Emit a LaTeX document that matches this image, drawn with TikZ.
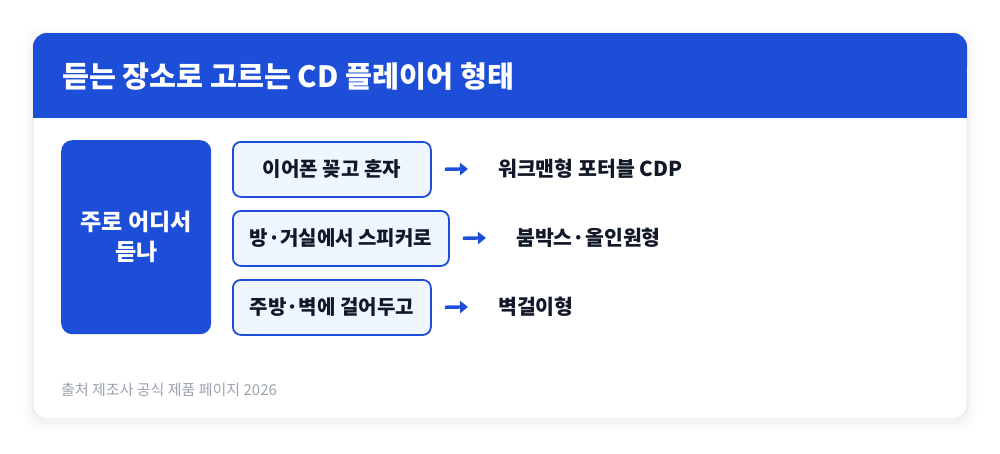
\documentclass[tikz,border=0pt]{standalone}
\usepackage{fontspec}
\setmainfont{Noto Sans CJK KR}
\usetikzlibrary{arrows.meta}
\definecolor{brand}{HTML}{1D4ED8}
\definecolor{paleblue}{HTML}{EFF6FF}
\definecolor{ink}{HTML}{111827}
\definecolor{muted}{HTML}{9CA3AF}
\definecolor{cardline}{HTML}{E5E7EB}
\tikzset{
  x=1pt, y=-1pt,
  place/.style={draw=brand, line width=1.8pt, fill=paleblue, rounded corners=8pt,
    minimum height=55pt, inner sep=0pt, anchor=north west,
    font=\fontsize{20}{24}\selectfont\bfseries, text=ink},
  result/.style={anchor=west, inner sep=0pt, font=\fontsize{20.5}{24}\selectfont\bfseries, text=ink},
  link/.style={draw=brand, line width=3.4pt, -{Triangle[length=8pt,width=12pt]},
    shorten <=13pt, shorten >=30pt}
}
\begin{document}
\begin{tikzpicture}
\useasboundingbox (0,0) rectangle (1000,453);
\fill[white] (0,0) rectangle (1000,453);
% shadow
\foreach \i/\o in {10/0.006,7/0.009,4/0.012,2/0.015}{
  \fill[black, opacity=\o, rounded corners=14pt] (33-\i,36-\i) rectangle (967+\i,422+\i);
}
% card
\filldraw[fill=white, draw=cardline, line width=0.8pt, rounded corners=14pt] (33,33) rectangle (967,419);
% header
\fill[brand, rounded corners=14pt] (33,33) rectangle (967,80);
\fill[brand] (33,60) rectangle (967,118);
\node[anchor=west, inner sep=0pt, text=white, font=\fontsize{29.3}{33}\selectfont\bfseries] (title) at (62,76) {듣는 장소로 고르는 CD 플레이어 형태};
% left box
\node[fill=brand, rounded corners=11pt, anchor=north west, minimum width=150pt, minimum height=194pt,
  inner sep=0pt, text=white, align=center, font=\fontsize{23}{30}\selectfont\bfseries] (where) at (61,140) {주로 어디서\\듣나};
% middle boxes
\node[place, minimum width=198pt] (b1) at (232,141) {이어폰 꽂고 혼자};
\node[place, minimum width=216pt] (b2) at (232,210) {방·거실에서 스피커로};
\node[place, minimum width=198pt] (b3) at (232,279) {주방·벽에 걸어두고};
% results
\node[result] (r1) at (498,168.5) {워크맨형 포터블 CDP};
\node[result] (r2) at (516,237.5) {붐박스·올인원형};
\node[result] (r3) at (498,306.5) {벽걸이형};
\draw[link] (b1.east) -- (r1.west);
\draw[link] (b2.east) -- (r2.west);
\draw[link] (b3.east) -- (r3.west);
% footer
\node[anchor=west, inner sep=0pt, text=muted, font=\fontsize{15}{18}\selectfont] (src) at (61,390) {출처 제조사 공식 제품 페이지 2026};
\end{tikzpicture}
\end{document}
